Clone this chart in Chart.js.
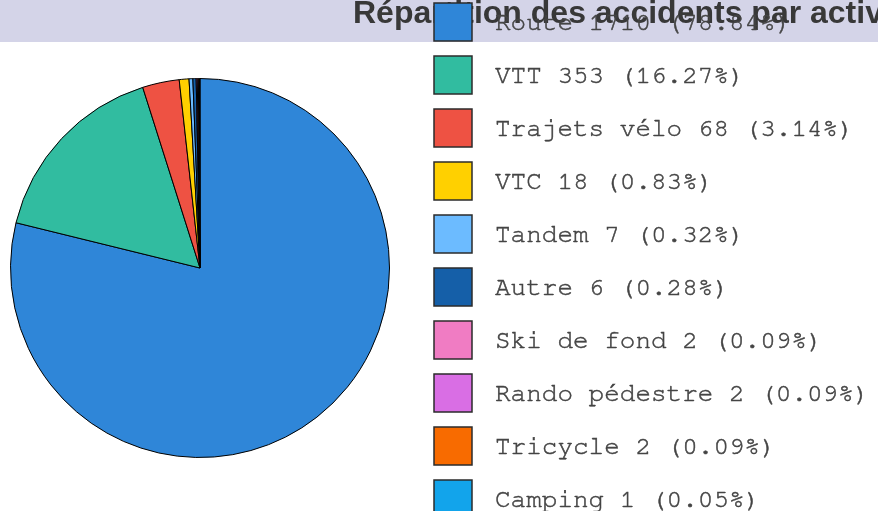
<!DOCTYPE html>
<html>
<head>
<meta charset="utf-8">
<script src="https://cdn.jsdelivr.net/npm/chart.js@4"></script>
<style>
  html, body { margin: 0; padding: 0; background: #fff; overflow: hidden; }
  canvas { display: block; }
</style>
</head>
<body>
<canvas id="pieChart" width="878" height="511"></canvas>
<script>
// Data
const titleText = 'Répartition des accidents par activité';
const activities = ['Route', 'VTT', 'Trajets vélo', 'VTC', 'Tandem', 'Autre',
  'Ski de fond', 'Rando pédestre', 'Tricycle', 'Camping'];
const counts = [1710, 353, 68, 18, 7, 6, 2, 2, 2, 1];
const colors = ['#2f86d8', '#31bca0', '#ee5243', '#ffd000', '#6cbbff', '#155fa8',
  '#f07cc3', '#d96ee4', '#f86b00', '#12a4eb'];

const total = counts.reduce((a, b) => a + b, 0);

// title bar drawn behind everything, legend drawn on top
const frame = {
  id: 'frame',
  beforeDraw(chart) {
    const ctx = chart.ctx;
    ctx.save();
    ctx.fillStyle = '#fff';
    ctx.fillRect(0, 0, chart.width, chart.height);
    ctx.fillStyle = '#d4d4e8';
    ctx.fillRect(0, 0, chart.width, 42);
    ctx.fillStyle = '#383838';
    ctx.font = 'bold 32px "Liberation Sans", Arial, sans-serif';
    ctx.textAlign = 'left';
    ctx.textBaseline = 'alphabetic';
    ctx.fillText(titleText, 353, 23);
    ctx.restore();
  },
  afterDraw(chart) {
    const ctx = chart.ctx;
    const labels = chart.data.labels;
    const ds = chart.data.datasets[0];
    ctx.save();
    ctx.font = '26px FreeMono, "Courier New", monospace';
    ctx.textBaseline = 'alphabetic';
    labels.forEach((lab, i) => {
      const y = 3 + i * 53;
      ctx.fillStyle = ds.backgroundColor[i];
      ctx.fillRect(434, y, 38, 38);
      ctx.lineWidth = 1.5;
      ctx.strokeStyle = '#2b2b2b';
      ctx.strokeRect(434, y, 38, 38);
      const v = ds.data[i];
      const pct = (v / total * 100).toFixed(2);
      const txt = lab + ' ' + v + ' (' + pct + '%)';
      ctx.fillStyle = '#444';
      ctx.fillText(txt, 495, y + 27);
      // FreeMono is thin, thicken it a little
      ctx.lineWidth = 0.5;
      ctx.strokeStyle = '#444';
      ctx.strokeText(txt, 495, y + 27);
    });
    ctx.restore();
  }
};

new Chart(document.getElementById('pieChart'), {
  type: 'pie',
  data: {
    labels: activities,
    datasets: [{
      data: counts,
      backgroundColor: colors,
      borderColor: '#000',
      borderWidth: 1
    }]
  },
  options: {
    responsive: false,
    animation: false,
    layout: { padding: { left: 10, top: 78, right: 488, bottom: 53 } },
    plugins: {
      legend: { display: false },
      title: { display: false },
      tooltip: { enabled: false }
    }
  },
  plugins: [frame]
});
</script>
</body>
</html>
